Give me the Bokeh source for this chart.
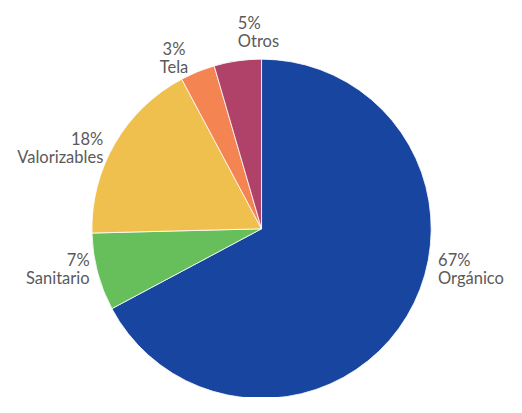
import math
from bokeh.plotting import figure
from bokeh.models import ColumnDataSource, Range1d
from bokeh.embed import file_html
from bokeh.resources import INLINE
from bokeh.core.properties import value

# ---- data ----
categories = ["Orgánico", "Sanitario", "Valorizables", "Tela", "Otros"]
shares = [67.2, 7.4, 17.6, 3.3, 4.5]
pct_labels = ["67%", "7%", "18%", "3%", "5%"]
colors = ["#1845A0", "#66BF5A", "#F0C04F", "#F58453", "#B0426A"]

# ---- label layout (style) ----
label_align = ["left", "right", "right", "center", "left"]
label_nudge_deg = [-20.8, 4.4, -0.4, -3.6, 1.6]
label_dist = [185.0, 180.3, 188.2, 208.0, 216.0]
line_pitch = 18.8

# figure size fits the window; data units follow the reference's 522x413 layout
W, H = 506, 397
REF_W, REF_H = 522, 413
cx_ref, cy_ref = 269.3, 237.5
R = 175.0

total = sum(shares)
starts, ends, mids = [], [], []
acc = 0.0
for s in shares:
    f0 = acc / total
    acc += s
    f1 = acc / total
    starts.append(math.pi / 2 - 2 * math.pi * f0)
    ends.append(math.pi / 2 - 2 * math.pi * f1)
    mids.append(360.0 * (f0 + f1) / 2)

p = figure(width=W, height=H,
           x_range=Range1d(-cx_ref, REF_W - cx_ref),
           y_range=Range1d(cy_ref - REF_H, cy_ref),
           output_backend="svg", toolbar_location=None,
           x_axis_type=None, y_axis_type=None, min_border=0)
p.grid.visible = False
p.outline_line_color = None
p.background_fill_color = "white"

src = ColumnDataSource(dict(start=starts, end=ends, color=colors, cat=categories))
p.wedge(x=0, y=0, radius=R, start_angle="start", end_angle="end",
        direction="clock", fill_color="color", line_color="white",
        line_width=0.8, source=src)

lx, ly, ly2 = [], [], []
for m, n, d in zip(mids, label_nudge_deg, label_dist):
    a = math.radians(m + n)
    lx.append(d * math.sin(a))
    ly.append(d * math.cos(a))
    ly2.append(d * math.cos(a) - line_pitch)

lsrc = ColumnDataSource(dict(x=lx, y=ly, y2=ly2, pct=pct_labels,
                             name=categories, align=label_align))
font = value("Lato")
fs = "16.5px"
p.text(x="x", y="y", text="pct", text_align="align", text_baseline="alphabetic",
       text_font=font, text_font_size=fs, text_color="#5a5a5a", source=lsrc)
p.text(x="x", y="y2", text="name", text_align="align", text_baseline="alphabetic",
       text_font=font, text_font_size=fs, text_color="#5a5a5a", source=lsrc)

open("out.html", "w").write(file_html(p, INLINE))
